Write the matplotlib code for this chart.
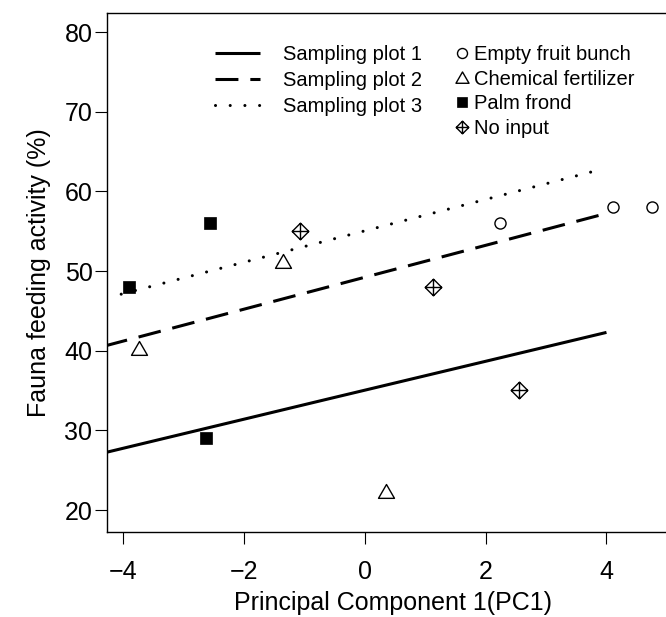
import matplotlib
matplotlib.use("Agg")
import matplotlib.pyplot as plt
import numpy as np
from matplotlib.path import Path
from matplotlib.lines import Line2D

plt.rcParams['font.family'] = ['Liberation Sans', 'DejaVu Sans']

efb_x = [2.24, 4.10, 4.76]
efb_y = [56.0, 58.0, 58.0]
chem_x = [-3.73, -1.36, 0.35]
chem_y = [40.2, 51.2, 22.2]
palm_x = [-3.90, -2.56, -2.63]
palm_y = [48.0, 56.0, 29.0]
none_x = [-1.07, 1.13, 2.56]
none_y = [55.0, 48.0, 35.1]

# fitted lines per sampling plot
plot1_x = [-4.3, -0.63, 4.0]
plot1_y = [27.2, 33.9, 42.3]
plot2_x = [-4.3, 3.98]
plot2_y = [40.6, 57.2]
plot3_x = [-4.03, 3.93]
plot3_y = [47.1, 62.8]

x_ticks = [-4, -2, 0, 2, 4]
y_ticks = [20, 30, 40, 50, 60, 70, 80]

# custom markers (R-like open triangle and diamond-plus)
tri = Path([(-1, -0.732), (1, -0.732), (0, 1.0), (-1, -0.732)],
           [Path.MOVETO, Path.LINETO, Path.LINETO, Path.CLOSEPOLY])
dplus = Path([(0, 1), (1, 0), (0, -1), (-1, 0), (0, 1),
              (-1, 0), (1, 0), (0, -1), (0, 1)],
             [Path.MOVETO, Path.LINETO, Path.LINETO, Path.LINETO, Path.CLOSEPOLY,
              Path.MOVETO, Path.LINETO, Path.MOVETO, Path.LINETO])

fig = plt.figure(figsize=(6.66, 6.17), dpi=100)
ax = fig.add_axes([107/666, 85/617, 572/666, 519/617])

lw = 2.2
ax.plot(plot1_x, plot1_y, color='black', lw=lw, solid_capstyle='butt')
ax.plot(plot2_x, plot2_y, color='black', lw=lw, dashes=(7.5, 3.9), dash_capstyle='butt')
ax.plot(plot3_x, plot3_y, color='black', lw=lw, dashes=(0.01, 4.8), dash_capstyle='round')

mk = dict(color='black', ls='none', mfc='none', mec='black', mew=1.0)
ax.plot(efb_x, efb_y, marker='o', ms=8, **mk)
ax.plot(chem_x, chem_y, marker=tri, ms=11.5, **mk)
ax.plot(palm_x, palm_y, marker='s', ls='none', ms=8.2, mfc='black', mec='black', mew=0.5)
ax.plot(none_x, none_y, marker=dplus, ms=12, **mk)

ax.set_xlim(-4.265, 5.2)
ax.set_ylim(17.24, 82.4)
ax.set_xticks(x_ticks)
ax.set_yticks(y_ticks)
ax.tick_params(direction='out', length=8.5, width=0.8, labelsize=18, pad=12)
ax.tick_params(axis='y', pad=2)
for s in ax.spines.values():
    s.set_linewidth(1.0)

ax.set_xlabel('Principal Component 1(PC1)', fontsize=18, labelpad=5)
ax.set_ylabel('Fauna feeding activity (%)', fontsize=18, labelpad=10)

line_handles = [
    Line2D([], [], color='black', lw=lw, solid_capstyle='butt'),
    Line2D([], [], color='black', lw=lw, dashes=(7.5, 3.9), dash_capstyle='butt'),
    Line2D([], [], color='black', lw=lw, dashes=(0.01, 4.8), dash_capstyle='round'),
]
line_labels = ['Sampling plot 1', 'Sampling plot 2', 'Sampling plot 3']
leg1 = ax.legend(line_handles, line_labels, loc='upper left',
                 bbox_to_anchor=(215/666, 1 - 45/617), bbox_transform=fig.transFigure,
                 frameon=False, fontsize=14.5, handlelength=2.24, handletextpad=1.15,
                 labelspacing=0.35, borderpad=0, borderaxespad=0)
ax.add_artist(leg1)

mark_handles = [
    Line2D([], [], marker='o', ms=7.2, **mk),
    Line2D([], [], marker=tri, ms=9.4, **mk),
    Line2D([], [], marker='s', ls='none', ms=7.2, mfc='black', mec='black', mew=0.5),
    Line2D([], [], marker=dplus, ms=9.1, **mk),
]
mark_labels = ['Empty fruit bunch', 'Chemical fertilizer', 'Palm frond', 'No input']
ax.legend(mark_handles, mark_labels, loc='upper left',
          bbox_to_anchor=(456/666, 1 - 45/617), bbox_transform=fig.transFigure,
          frameon=False, fontsize=14.5, handlelength=0.6, handletextpad=0.3,
          labelspacing=0.28, borderpad=0, borderaxespad=0)

fig.savefig('out.png', dpi=100)
